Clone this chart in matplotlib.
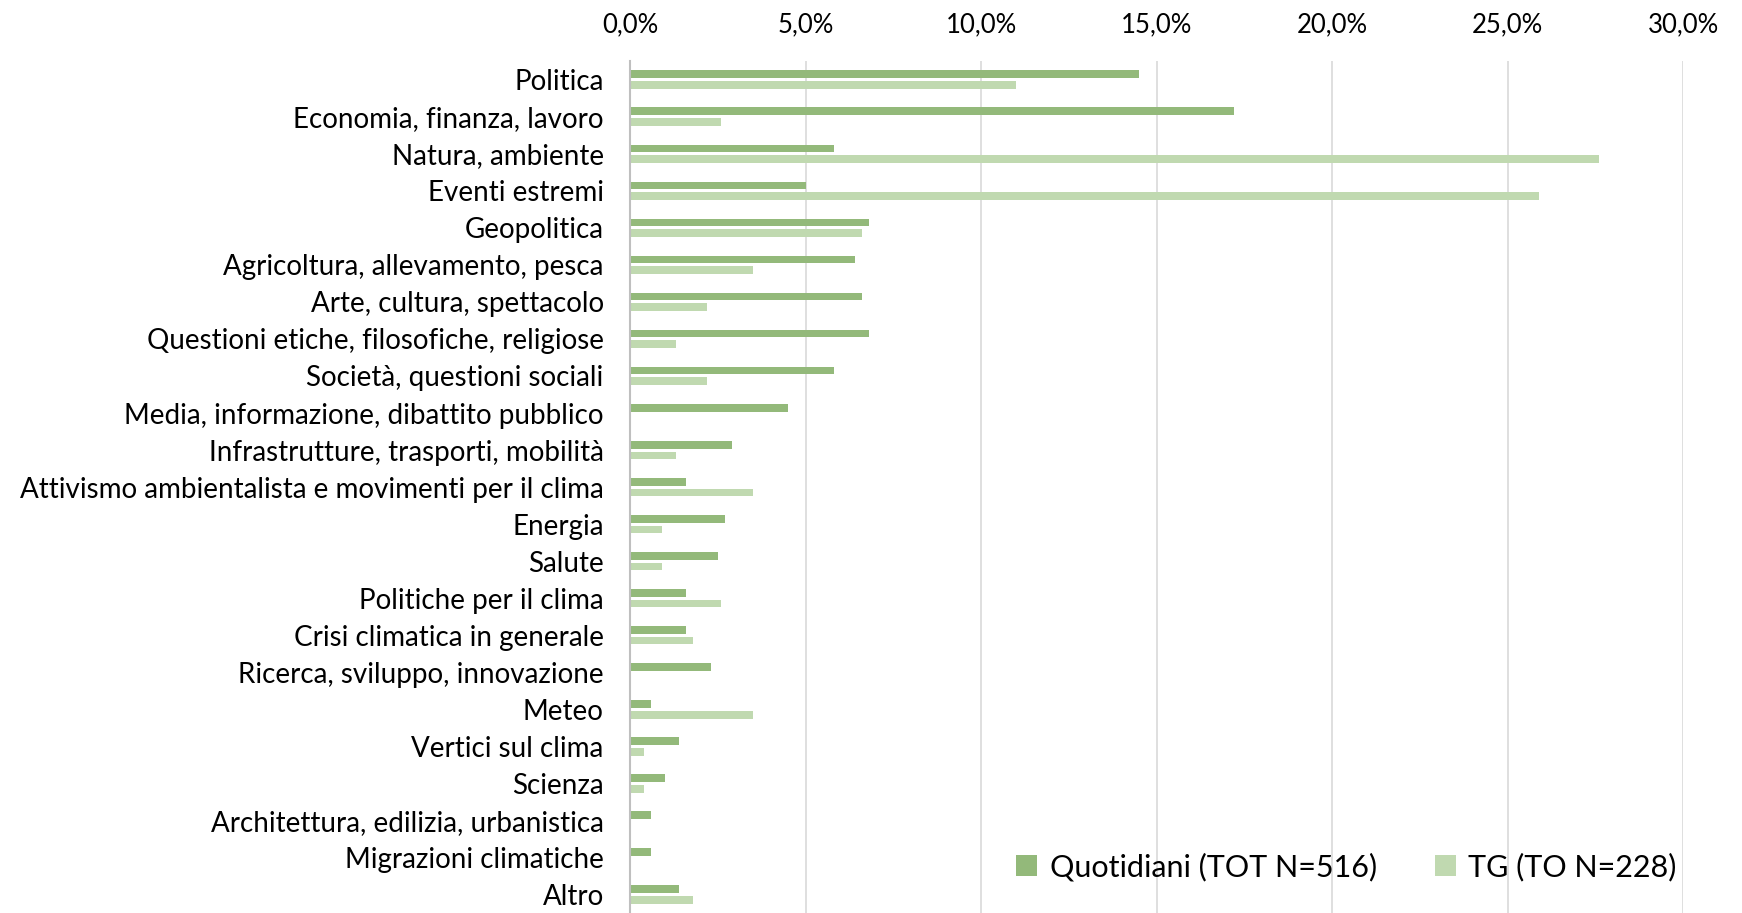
import matplotlib
matplotlib.use("Agg")
import matplotlib.pyplot as plt
import matplotlib.ticker as mticker
import numpy as np

categorie = [
    "Politica",
    "Economia, finanza, lavoro",
    "Natura, ambiente",
    "Eventi estremi",
    "Geopolitica",
    "Agricoltura, allevamento, pesca",
    "Arte, cultura, spettacolo",
    "Questioni etiche, filosofiche, religiose",
    "Società, questioni sociali",
    "Media, informazione, dibattito pubblico",
    "Infrastrutture, trasporti, mobilità",
    "Attivismo ambientalista e movimenti per il clima",
    "Energia",
    "Salute",
    "Politiche per il clima",
    "Crisi climatica in generale",
    "Ricerca, sviluppo, innovazione",
    "Meteo",
    "Vertici sul clima",
    "Scienza",
    "Architettura, edilizia, urbanistica",
    "Migrazioni climatiche",
    "Altro",
]
quotidiani = [14.5, 17.2, 5.8, 5.0, 6.8, 6.4, 6.6, 6.8, 5.8, 4.5, 2.9, 1.6,
              2.7, 2.5, 1.6, 1.6, 2.3, 0.6, 1.4, 1.0, 0.6, 0.6, 1.4]
tg = [11.0, 2.6, 27.6, 25.9, 6.6, 3.5, 2.2, 1.3, 2.2, 0.0, 1.3, 3.5,
      0.9, 0.9, 2.6, 1.8, 0.0, 3.5, 0.4, 0.4, 0.0, 0.0, 1.8]
serie = ["Quotidiani (TOT N=516)", "TG (TO N=228)"]

plt.rcParams["font.family"] = ["Lato", "DejaVu Sans"]

col_q = "#93b97a"
col_tg = "#c0d9b0"

fig = plt.figure(figsize=(17.42, 9.13), dpi=100)
ax = fig.add_axes([0.3617, 0.0, 0.6045, 0.933])

y = np.arange(len(categorie))
h = 0.21
ax.barh(y - 0.145, quotidiani, height=h, color=col_q, label=serie[0], zorder=3)
ax.barh(y + 0.145, tg, height=h, color=col_tg, label=serie[1], zorder=3)

ax.set_ylim(len(categorie) - 0.5, -0.5)
ax.set_xlim(0, 30)
ax.set_yticks(y)
ax.set_yticklabels(categorie, fontsize=20, color="#000000")
ax.xaxis.set_major_locator(mticker.MultipleLocator(5))
ax.xaxis.set_major_formatter(mticker.FuncFormatter(lambda v, p: f"{v:.1f}%".replace(".", ",")))
ax.xaxis.tick_top()
ax.tick_params(axis="x", length=0, pad=17, labelsize=18.5, labelcolor="#000000")
ax.tick_params(axis="y", length=0, pad=19)

ax.grid(axis="x", color="#d9d9d9", linewidth=1.2, zorder=0)
for s in ["top", "right", "bottom"]:
    ax.spines[s].set_visible(False)
ax.spines["left"].set_color("#bfbfbf")
ax.spines["left"].set_linewidth(1.5)
ax.spines["left"].set_zorder(4)

ax.legend(loc="lower right", bbox_to_anchor=(1.02, 0.005), ncol=2, frameon=False,
          fontsize=22, handlelength=0.7, handleheight=0.7, handletextpad=0.4,
          columnspacing=1.9)

fig.savefig("out.png", dpi=100, facecolor="white")
